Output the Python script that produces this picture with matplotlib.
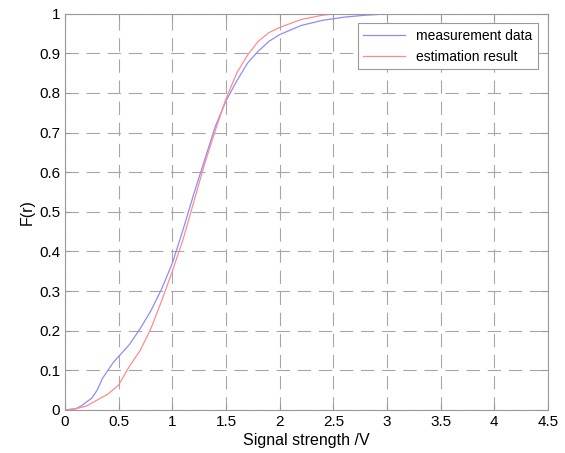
import matplotlib.pyplot as plt

plt.rcParams['font.family'] = ['Liberation Sans', 'DejaVu Sans']

# measured CDF (blue)
meas_x = [0, 0.1, 0.15, 0.2, 0.25, 0.3, 0.35, 0.4, 0.45, 0.5, 0.6, 0.7, 0.8, 0.9,
          1.0, 1.1, 1.2, 1.3, 1.4, 1.5, 1.6, 1.7, 1.8, 1.9, 2.0, 2.2, 2.4, 2.6,
          2.8, 3.0, 3.1, 4.5]
meas_F = [0, 0.003, 0.01, 0.02, 0.03, 0.05, 0.08, 0.10, 0.12, 0.135, 0.165, 0.205,
          0.25, 0.305, 0.37, 0.455, 0.545, 0.63, 0.715, 0.78, 0.83, 0.875, 0.905,
          0.93, 0.947, 0.97, 0.983, 0.991, 0.996, 0.999, 1.0, 1.0]

# estimated CDF (red)
est_x = [0, 0.1, 0.2, 0.3, 0.4, 0.5, 0.6, 0.7, 0.8, 0.9, 1.0, 1.1, 1.2, 1.3, 1.4,
         1.5, 1.6, 1.7, 1.8, 1.9, 2.0, 2.2, 2.4, 2.5, 2.6, 3.1]
est_F = [0, 0.003, 0.01, 0.025, 0.04, 0.063, 0.11, 0.15, 0.205, 0.275, 0.35, 0.43,
         0.525, 0.62, 0.705, 0.785, 0.85, 0.895, 0.93, 0.952, 0.965, 0.985, 0.996,
         0.999, 1.0, 1.0]

fig = plt.figure(figsize=(5.65, 4.53), dpi=100)
ax = fig.add_axes([0.115, 0.095, 0.855, 0.875])

ax.plot(meas_x, meas_F, color='#8c8cff', linewidth=0.9, label='measurement data')
ax.plot(est_x, est_F, color='#ff8c8c', linewidth=0.9, label='estimation result')

ax.set_xlim(0, 4.5)
ax.set_ylim(0, 1)
ax.set_xticks([0, 0.5, 1, 1.5, 2, 2.5, 3, 3.5, 4, 4.5])
ax.set_xticklabels(['0', '0.5', '1', '1.5', '2', '2.5', '3', '3.5', '4', '4.5'])
ax.set_yticks([i / 10 for i in range(11)])
ax.set_yticklabels(['0', '0.1', '0.2', '0.3', '0.4', '0.5', '0.6', '0.7', '0.8', '0.9', '1'])

# dashed grid, longer dashes like the original
ax.grid(True, color='#a6a6a6', linestyle=(0, (12, 7)), linewidth=0.8)
ax.tick_params(direction='in', length=4, color='#999999', labelsize=11, top=True, right=True)
for s in ax.spines.values():
    s.set_color('#999999')
    s.set_linewidth(0.8)

ax.set_xlabel('Signal strength /V', fontsize=11.5, labelpad=3)
ax.set_ylabel('F(r)', fontsize=11.5, labelpad=3)

leg = ax.legend(loc='upper right', fontsize=10, handlelength=3.0, fancybox=False,
                framealpha=1, edgecolor='#999999', borderaxespad=0.4,
                bbox_to_anchor=(0.99, 0.99))
leg.get_frame().set_linewidth(0.8)

fig.savefig('out.png', dpi=100)
